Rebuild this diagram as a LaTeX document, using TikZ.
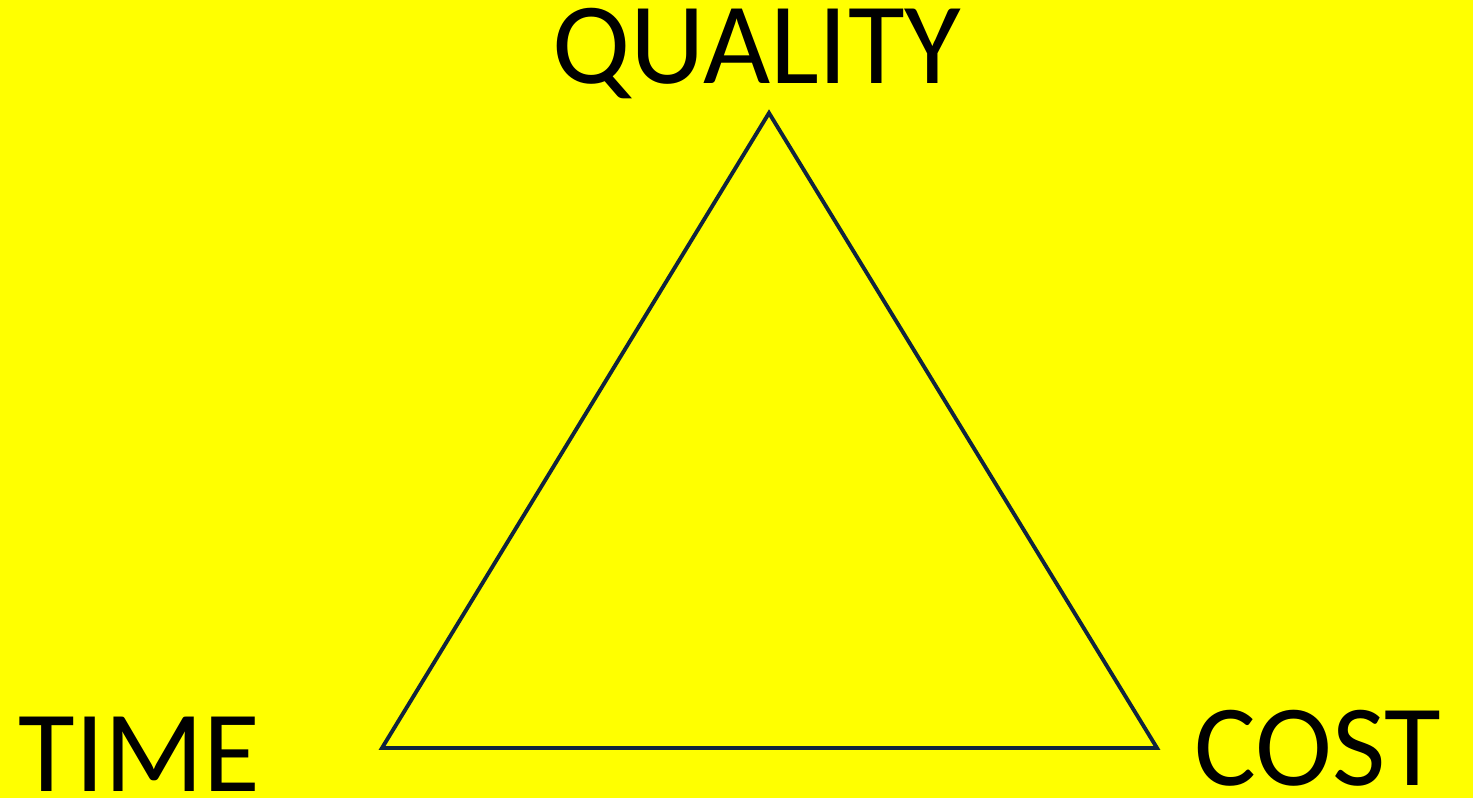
\documentclass[tikz,border=0pt]{standalone}
\usepackage{fontspec}
\setmainfont{Carlito}
\usetikzlibrary{positioning,calc}
\definecolor{fondo}{RGB}{255,255,0}
\definecolor{lineaazul}{RGB}{16,36,60}
\tikzset{
  etiqueta/.style={inner sep=0pt,font=\fontsize{33}{39}\selectfont,text=black},
  lado/.style={lineaazul,line width=1.1pt,line join=miter},
}
\begin{document}
\begin{tikzpicture}[x=0.01cm,y=-0.01cm]
  \fill[fondo] (0,0) rectangle (1473,798);
  \useasboundingbox (0,0) rectangle (1473,798);
  \coordinate (q) at (769,113);
  \coordinate (t) at (382,748);
  \coordinate (c) at (1157,748);
  \draw[lado] (q) -- (t) -- (c) -- cycle;
  \node[etiqueta,anchor=base] (quality) at (757,84) {QUALITY};
  \node[etiqueta,anchor=base west] (time) at (18,791) {TIME};
  \node[etiqueta,anchor=base east] (cost) at (1442,786) {COST};
\end{tikzpicture}
\end{document}
